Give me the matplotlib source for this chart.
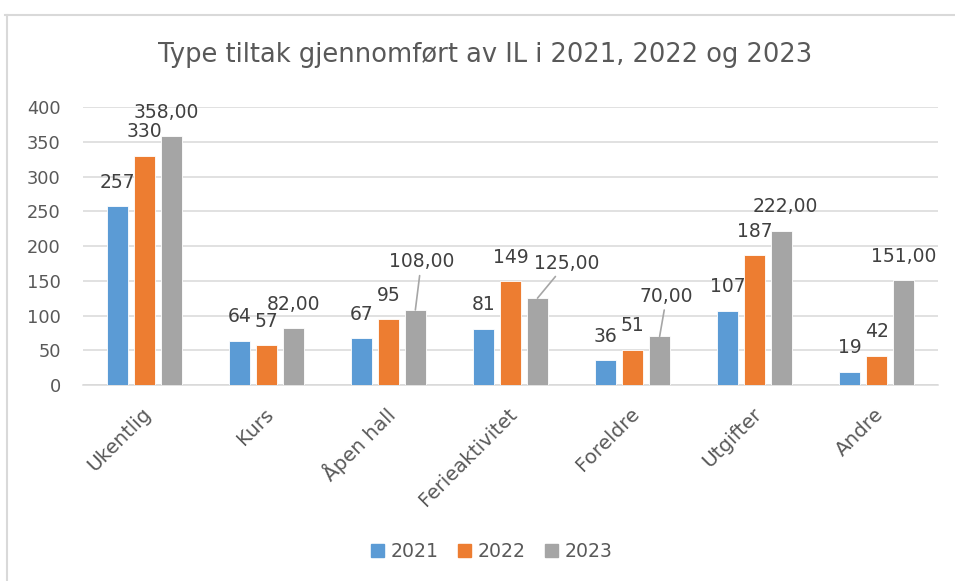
import matplotlib
matplotlib.use("Agg")
import matplotlib.pyplot as plt
from matplotlib.lines import Line2D
import numpy as np

categories = ["Ukentlig", "Kurs", "Åpen hall", "Ferieaktivitet", "Foreldre", "Utgifter", "Andre"]
series_names = ["2021", "2022", "2023"]
v2021 = [257, 64, 67, 81, 36, 107, 19]
v2022 = [330, 57, 95, 149, 51, 187, 42]
v2023 = [358, 82, 108, 125, 70, 222, 151]
values = [v2021, v2022, v2023]
colors = ["#5B9BD5", "#ED7D31", "#A5A5A5"]
yticks = [0, 50, 100, 150, 200, 250, 300, 350, 400]

# manual label shifts (pixels) for 2023 labels moved away from default
label_shift_2023 = [(-5, 0), (0, 0), (6, 24), (29, 11), (7, 16), (4, 0), (0, 0)]

plt.rcParams['font.family'] = ['DejaVu Sans']

fig = plt.figure(figsize=(9.55, 5.81), dpi=100)
ax = fig.add_axes([0.0869, 0.3373, 0.9822 - 0.0869, 0.8158 - 0.3373])

n = len(categories)
x = np.arange(n)
step = 0.221
width = 0.172

for i, (vals, col, name) in enumerate(zip(values, colors, series_names)):
    xs = x + (i - 1) * step
    ax.bar(xs, vals, width=width, color=col, label=name, zorder=3,
           edgecolor="white", linewidth=0.6)
    for j, (xx, v) in enumerate(zip(xs, vals)):
        if i == 2:
            txt = f"{v:.2f}".replace(".", ",")
            dx, dy = label_shift_2023[j]
        else:
            txt = f"{v}"
            dx, dy = 0, 0
        kw = {}
        if dy > 5:
            kw["arrowprops"] = dict(arrowstyle="-", color="#A6A6A6", lw=1.2,
                                    shrinkA=1, shrinkB=0)
        ax.annotate(txt, xy=(xx, v), xytext=(dx, 24 + dy), textcoords="offset pixels",
                    ha="center", va="center", fontsize=13.5, color="#404040", zorder=4, **kw)

ax.set_xlim(-0.5, n - 0.5)
ax.set_ylim(0, 400)
ax.set_yticks(yticks)
ax.set_yticklabels([str(t) for t in yticks])
ax.set_xticks(x)
ax.set_xticklabels([])
ax.grid(axis="y", color="#D9D9D9", linewidth=1.1, zorder=0)
ax.set_axisbelow(True)
for s in ["top", "right", "left"]:
    ax.spines[s].set_visible(False)
ax.spines["bottom"].set_color("#D9D9D9")
ax.spines["bottom"].set_linewidth(1.1)
ax.tick_params(axis="both", length=0, labelsize=12.8, labelcolor="#595959")
ax.tick_params(axis="y", pad=16)

for xx, c in zip(x, categories):
    ax.annotate(c, xy=(xx, 0), xytext=(4, -26), textcoords="offset pixels",
                rotation=45, rotation_mode="anchor", ha="right", va="center",
                fontsize=14.3, color="#595959")

fig.text(0.508, 0.905, "Type tiltak gjennomført av IL i 2021, 2022 og 2023",
         ha="center", va="center", fontsize=18.5, color="#595959")

handles = [plt.Rectangle((0, 0), 1, 1, color=c) for c in colors]
fig.legend(handles, series_names, loc="center", bbox_to_anchor=(0.515, 0.05),
           ncol=3, frameon=False, fontsize=13.6, labelcolor="#595959",
           handlelength=0.68, handleheight=0.68, handletextpad=0.35, columnspacing=1.05)

# chart border (partially visible)
fig.add_artist(Line2D([5 / 955, 1.0], [1 - 15 / 581, 1 - 15 / 581], color="#D9D9D9", lw=1.5,
                      transform=fig.transFigure))
fig.add_artist(Line2D([7 / 955, 7 / 955], [0, 1 - 15 / 581], color="#D9D9D9", lw=1.5,
                      transform=fig.transFigure))

fig.savefig("out.png", dpi=100, facecolor="white")
